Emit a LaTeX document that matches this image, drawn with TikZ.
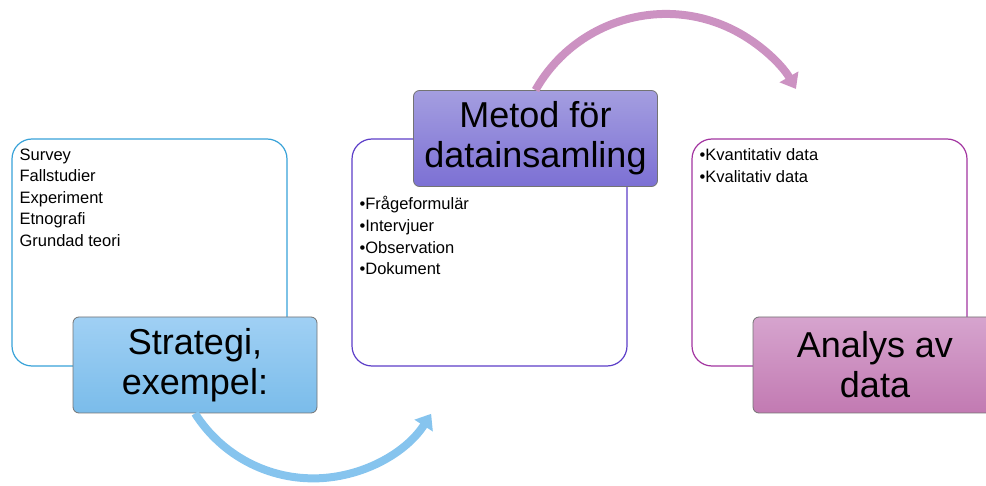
\documentclass[tikz,border=0pt]{standalone}
\usepackage{fontspec}
\setmainfont{Liberation Sans}
\usepackage{tikz}
\usetikzlibrary{positioning,arrows.meta}
\usepackage{xcolor}
\definecolor{stratline}{RGB}{56,162,216}
\definecolor{metodline}{RGB}{92,62,200}
\definecolor{analysline}{RGB}{162,52,160}
\definecolor{strattop}{RGB}{160,208,244}
\definecolor{stratbot}{RGB}{122,188,234}
\definecolor{metodtop}{RGB}{164,158,224}
\definecolor{metodbot}{RGB}{124,112,212}
\definecolor{analystop}{RGB}{214,164,206}
\definecolor{analysbot}{RGB}{194,122,178}
\definecolor{bluearc}{RGB}{134,196,238}
\definecolor{pinkarc}{RGB}{204,146,194}

\begin{document}
\begin{tikzpicture}[x=1pt,y=1pt,
  frame/.style={draw,line width=1.2pt,rounded corners=20pt,minimum width=275pt,minimum height=227pt,inner sep=0pt},
  stage/.style={draw=black!55,line width=0.8pt,rounded corners=6pt,minimum width=244pt,minimum height=96pt,align=center,font=\fontsize{36}{40}\selectfont},
  items/.style={anchor=north west,inner sep=0pt,align=left,font=\fontsize{16.5}{21.6}\selectfont},
  flow/.style={line width=8pt,-{Triangle[width=21pt,length=14pt]}}]
\useasboundingbox (0,0) rectangle (986,485);
% outlined boxes with the lists
\node[frame,draw=stratline] (stratbox) at (149.5,232.5) {};
\node[frame,draw=metodline] (metodbox) at (489.5,232.5) {};
\node[frame,draw=analysline] (analysbox) at (829.5,232.5) {};
\node[items,below right=10pt and 8pt of stratbox.north west] (stratlist) {Survey\\Fallstudier\\Experiment\\Etnografi\\Grundad teori};
\node[items,below right=58pt and 8pt of metodbox.north west] (metodlist) {•Frågeformulär\\•Intervjuer\\•Observation\\•Dokument};
\node[items,below right=10pt and 8pt of analysbox.north west] (analyslist) {•Kvantitativ data\\•Kvalitativ data};
% filled headings
\node[stage,top color=strattop,bottom color=stratbot] (strat) at (195,120) {Strategi,\\exempel:};
\node[stage,top color=metodtop,bottom color=metodbot] (metod) at (535.5,346.5) {Metod för\\datainsamling};
\node[stage,top color=analystop,bottom color=analysbot] (analys) at (875,120) {Analys av\\data};
% curved arrows between the stages
\draw[flow,bluearc] (strat.south) arc[start angle=212.4,end angle=327.4,radius=140];
\draw[flow,pinkarc] (metod.north) arc[start angle=150.5,end angle=30,radius=150];
\end{tikzpicture}
\end{document}
